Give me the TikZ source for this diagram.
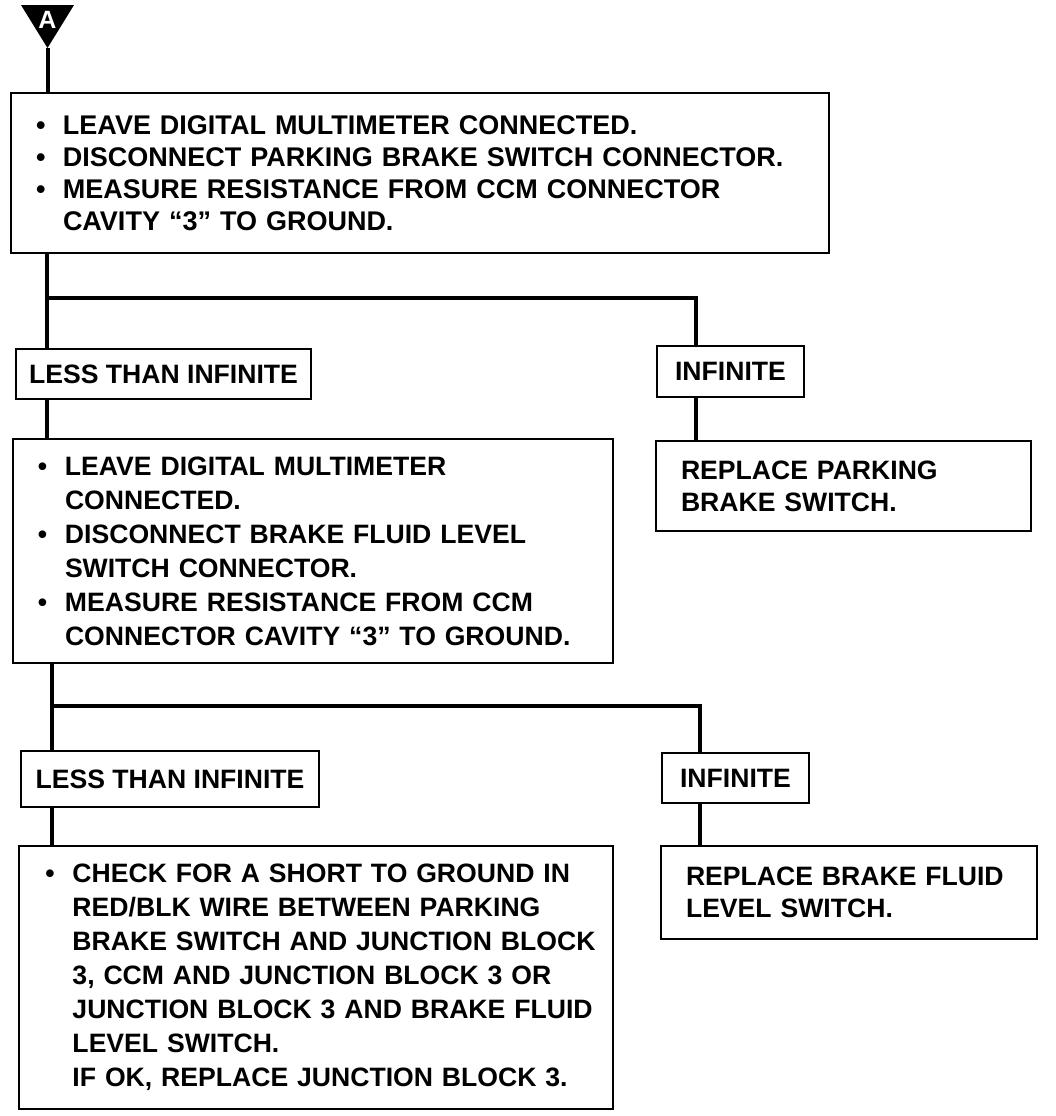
\documentclass[tikz,border=0pt]{standalone}
\usepackage{fontspec}
\setmainfont{Liberation Sans}
\usetikzlibrary{positioning}
\tikzset{
  stepbox/.style={draw, line width=1pt, anchor=north west, inner xsep=12.5pt, inner ysep=0pt, align=left, font=\fontsize{13.3}{16}\selectfont\bfseries},
  answer/.style={draw, line width=1pt, anchor=north west, inner sep=0pt, align=center, font=\fontsize{13.3}{16}\selectfont\bfseries},
  wire/.style={line width=2pt}
}
\newcommand{\bul}{\makebox[13.5pt][l]{\textbullet}}
\newcommand{\ind}{\hspace*{13.5pt}}
\begin{document}
\begin{tikzpicture}[x=0.5pt, y=-0.5pt]
    \useasboundingbox (0,0) rectangle (1056,1116);

    % entry flag
    \fill (21,5) -- (74,5) -- (47.5,48) -- cycle;
    \node [text=white, font=\fontsize{12.5}{12.5}\selectfont\bfseries] (flag) at (47.5,20) {A};
    \coordinate (tip) at (47.5,48);

    % first check
    \node [stepbox, text width=384pt, minimum height=80pt, font=\fontsize{13.5}{16}\selectfont\bfseries] (check1) at (10,92)
        {\bul LEAVE DIGITAL MULTIMETER CONNECTED.\\
         \bul DISCONNECT PARKING BRAKE SWITCH CONNECTOR.\\
         \bul MEASURE RESISTANCE FROM CCM CONNECTOR\\
         \ind CAVITY “3” TO GROUND.};
    \node [answer, minimum width=147.5pt, minimum height=25pt] (less1) at (15,348) {LESS THAN INFINITE};
    \node [answer, minimum width=73.5pt, minimum height=25.5pt] (inf1) at (656,345) {INFINITE};
    \node [stepbox, text width=275pt, minimum height=112pt, font=\fontsize{13.3}{17}\selectfont\bfseries] (check2) at (12,438)
        {\bul LEAVE DIGITAL MULTIMETER\\
         \ind CONNECTED.\\
         \bul DISCONNECT BRAKE FLUID LEVEL\\
         \ind SWITCH CONNECTOR.\\
         \bul MEASURE RESISTANCE FROM CCM\\
         \ind CONNECTOR CAVITY “3” TO GROUND.};
    \node [stepbox, text width=162.5pt, minimum height=45pt] (fix1) at (655,440)
        {REPLACE PARKING\\ BRAKE SWITCH.};

    % second check
    \node [answer, minimum width=149pt, minimum height=28pt] (less2) at (20,750) {LESS THAN INFINITE};
    \node [answer, minimum width=73.5pt, minimum height=25pt] (inf2) at (661,752) {INFINITE};
    \node [stepbox, text width=285pt, minimum height=131.5pt, inner xsep=6pt, font=\fontsize{13.3}{17}\selectfont\bfseries] (check3) at (18,845)
        {\hspace*{7.25pt}\bul CHECK FOR A SHORT TO GROUND IN\\
         \hspace*{7.25pt}\ind RED/BLK WIRE BETWEEN PARKING\\
         \hspace*{7.25pt}\ind BRAKE SWITCH AND JUNCTION BLOCK\\
         \hspace*{7.25pt}\ind 3, CCM AND JUNCTION BLOCK 3 OR\\
         \hspace*{7.25pt}\ind JUNCTION BLOCK 3 AND BRAKE FLUID\\
         \hspace*{7.25pt}\ind LEVEL SWITCH.\\
         \hspace*{7.25pt}\ind IF OK, REPLACE JUNCTION BLOCK 3.};
    \node [stepbox, text width=163pt, minimum height=46.5pt] (fix2) at (660,845)
        {REPLACE BRAKE FLUID\\ LEVEL SWITCH.};

    % connectors
    \coordinate (split1) at (47,298);
    \coordinate (turn1) at (696,298);
    \coordinate (split2) at (52,706);
    \coordinate (turn2) at (700,706);

    \draw [wire] (tip) -- (tip |- check1.north);
    \draw [wire] (split1 |- check1.south) -- (split1 |- less1.north);
    \draw [wire] (split1) -- (turn1) -- (turn1 |- inf1.north);
    \draw [wire] (split1 |- less1.south) -- (split1 |- check2.north);
    \draw [wire] (turn1 |- inf1.south) -- (turn1 |- fix1.north);

    \draw [wire] (split2 |- check2.south) -- (split2 |- less2.north);
    \draw [wire] (split2) -- (turn2) -- (turn2 |- inf2.north);
    \draw [wire] (split2 |- less2.south) -- (split2 |- check3.north);
    \draw [wire] (turn2 |- inf2.south) -- (turn2 |- fix2.north);
\end{tikzpicture}
\end{document}
